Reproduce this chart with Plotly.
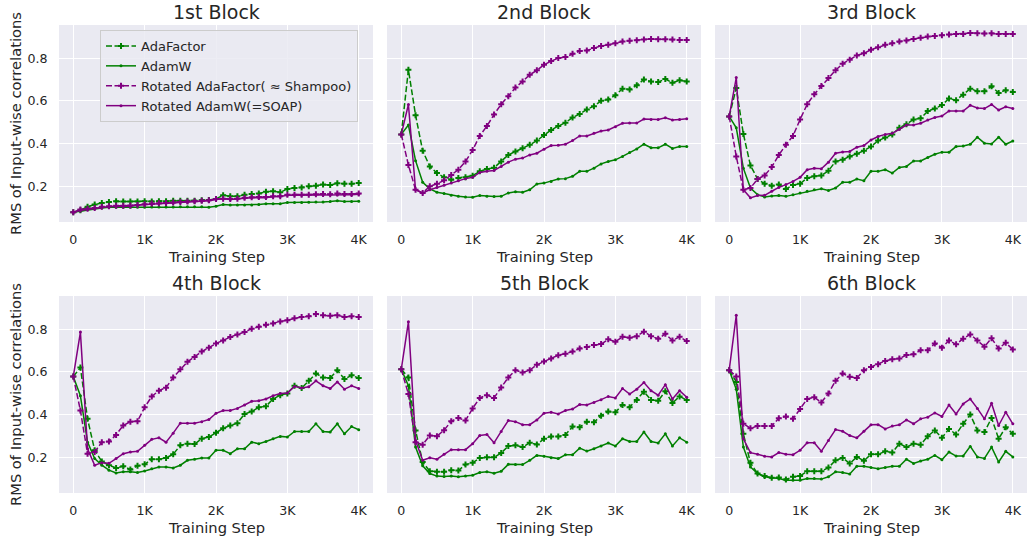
import plotly.graph_objects as go

steps = list(range(0, 4001, 100))
block_titles = ["1st Block", "2nd Block", "3rd Block", "4th Block", "5th Block", "6th Block"]
series_names = ["AdaFactor", "AdamW", "Rotated AdaFactor( ≈ Shampoo)", "Rotated AdamW(=SOAP)"]
xtick_vals = [0, 1000, 2000, 3000, 4000]
xtick_text = ["0", "1K", "2K", "3K", "4K"]
ytick_vals = [0.2, 0.4, 0.6, 0.8]
ytick_text = ["0.2", "0.4", "0.6", "0.8"]

# ---- Block 1 ----
ada_b1 = [0.079, 0.088, 0.104, 0.115, 0.122, 0.127, 0.130, 0.129, 0.129, 0.129, 0.130, 0.129, 0.130, 0.130,
          0.132, 0.132, 0.133, 0.133, 0.135, 0.136, 0.141, 0.158, 0.153, 0.153, 0.161, 0.164, 0.166, 0.174,
          0.177, 0.172, 0.188, 0.192, 0.195, 0.200, 0.203, 0.208, 0.206, 0.214, 0.212, 0.212, 0.215]
adamw_b1 = [0.079, 0.084, 0.091, 0.095, 0.099, 0.102, 0.102, 0.102, 0.102, 0.102, 0.102, 0.103, 0.103, 0.103,
            0.103, 0.104, 0.104, 0.104, 0.104, 0.102, 0.107, 0.115, 0.112, 0.112, 0.113, 0.113, 0.115, 0.118,
            0.118, 0.118, 0.124, 0.124, 0.124, 0.126, 0.127, 0.127, 0.129, 0.132, 0.129, 0.129, 0.130]
rada_b1 = [0.079, 0.091, 0.095, 0.098, 0.104, 0.107, 0.109, 0.109, 0.110, 0.113, 0.116, 0.119, 0.121, 0.122,
           0.124, 0.127, 0.129, 0.130, 0.133, 0.135, 0.141, 0.142, 0.141, 0.142, 0.146, 0.149, 0.150, 0.150,
           0.153, 0.153, 0.161, 0.161, 0.161, 0.161, 0.163, 0.164, 0.163, 0.166, 0.164, 0.164, 0.166]
radamw_b1 = [0.079, 0.088, 0.091, 0.096, 0.102, 0.105, 0.105, 0.107, 0.107, 0.113, 0.115, 0.116, 0.118, 0.121,
             0.122, 0.126, 0.127, 0.129, 0.130, 0.133, 0.138, 0.142, 0.138, 0.142, 0.144, 0.146, 0.147, 0.147,
             0.152, 0.152, 0.158, 0.158, 0.158, 0.160, 0.160, 0.161, 0.160, 0.161, 0.161, 0.161, 0.163]

# ---- Block 2 ----
ada_b2 = [0.443, 0.746, 0.533, 0.366, 0.293, 0.262, 0.242, 0.231, 0.239, 0.243, 0.250, 0.270, 0.281, 0.287,
          0.316, 0.347, 0.363, 0.378, 0.394, 0.414, 0.440, 0.464, 0.482, 0.498, 0.522, 0.538, 0.560, 0.575,
          0.600, 0.606, 0.626, 0.657, 0.653, 0.673, 0.700, 0.691, 0.688, 0.702, 0.685, 0.696, 0.691]
adamw_b2 = [0.443, 0.487, 0.320, 0.219, 0.188, 0.172, 0.166, 0.158, 0.153, 0.150, 0.149, 0.157, 0.153, 0.152,
            0.153, 0.169, 0.175, 0.172, 0.184, 0.211, 0.215, 0.223, 0.234, 0.236, 0.247, 0.270, 0.270, 0.285,
            0.305, 0.316, 0.324, 0.340, 0.358, 0.375, 0.397, 0.381, 0.380, 0.397, 0.377, 0.386, 0.386]
rada_b2 = [0.443, 0.300, 0.184, 0.169, 0.200, 0.212, 0.228, 0.253, 0.278, 0.316, 0.370, 0.436, 0.482, 0.536,
           0.584, 0.622, 0.662, 0.691, 0.722, 0.743, 0.769, 0.786, 0.800, 0.805, 0.820, 0.833, 0.836, 0.847,
           0.857, 0.862, 0.870, 0.878, 0.881, 0.884, 0.887, 0.890, 0.888, 0.888, 0.887, 0.885, 0.885]
radamw_b2 = [0.443, 0.583, 0.184, 0.169, 0.184, 0.195, 0.205, 0.215, 0.226, 0.236, 0.242, 0.265, 0.270, 0.274,
             0.293, 0.313, 0.327, 0.332, 0.347, 0.355, 0.374, 0.391, 0.392, 0.397, 0.414, 0.436, 0.436, 0.448,
             0.459, 0.464, 0.479, 0.495, 0.496, 0.496, 0.515, 0.513, 0.513, 0.521, 0.510, 0.513, 0.516]

# ---- Block 3 ----
ada_b3 = [0.527, 0.660, 0.445, 0.298, 0.234, 0.212, 0.203, 0.208, 0.188, 0.206, 0.212, 0.239, 0.247, 0.251,
          0.273, 0.316, 0.324, 0.340, 0.352, 0.367, 0.386, 0.414, 0.428, 0.443, 0.474, 0.491, 0.513, 0.518,
          0.552, 0.564, 0.580, 0.611, 0.603, 0.629, 0.657, 0.645, 0.645, 0.668, 0.637, 0.650, 0.642]
adamw_b3 = [0.527, 0.474, 0.285, 0.192, 0.161, 0.150, 0.155, 0.157, 0.153, 0.160, 0.169, 0.177, 0.184, 0.189,
            0.181, 0.192, 0.219, 0.219, 0.234, 0.226, 0.270, 0.270, 0.278, 0.262, 0.288, 0.293, 0.319, 0.319,
            0.335, 0.350, 0.360, 0.360, 0.386, 0.389, 0.397, 0.430, 0.402, 0.398, 0.430, 0.397, 0.412]
rada_b3 = [0.527, 0.340, 0.184, 0.192, 0.234, 0.251, 0.290, 0.347, 0.394, 0.436, 0.513, 0.584, 0.631, 0.670,
           0.707, 0.743, 0.774, 0.792, 0.812, 0.823, 0.839, 0.851, 0.862, 0.870, 0.878, 0.882, 0.890, 0.895,
           0.901, 0.904, 0.907, 0.910, 0.913, 0.913, 0.918, 0.916, 0.915, 0.916, 0.913, 0.913, 0.913]
radamw_b3 = [0.527, 0.709, 0.184, 0.146, 0.157, 0.158, 0.177, 0.195, 0.208, 0.223, 0.242, 0.278, 0.284, 0.282,
             0.313, 0.355, 0.361, 0.363, 0.383, 0.391, 0.417, 0.433, 0.443, 0.448, 0.467, 0.487, 0.487, 0.495,
             0.510, 0.522, 0.529, 0.553, 0.552, 0.552, 0.579, 0.567, 0.564, 0.583, 0.557, 0.572, 0.564]

# ---- Block 4 ----
ada_b4 = [0.578, 0.620, 0.380, 0.233, 0.181, 0.163, 0.150, 0.158, 0.143, 0.160, 0.167, 0.191, 0.191, 0.197,
          0.214, 0.256, 0.264, 0.262, 0.287, 0.295, 0.315, 0.336, 0.349, 0.360, 0.403, 0.414, 0.434, 0.439,
          0.473, 0.491, 0.499, 0.535, 0.524, 0.558, 0.592, 0.574, 0.571, 0.608, 0.566, 0.584, 0.571]
adamw_b4 = [0.578, 0.488, 0.271, 0.194, 0.163, 0.140, 0.127, 0.132, 0.132, 0.129, 0.136, 0.147, 0.155, 0.155,
            0.150, 0.163, 0.186, 0.191, 0.197, 0.197, 0.233, 0.233, 0.217, 0.240, 0.240, 0.271, 0.264, 0.274,
            0.287, 0.298, 0.295, 0.321, 0.321, 0.321, 0.357, 0.321, 0.318, 0.357, 0.310, 0.344, 0.329]
rada_b4 = [0.578, 0.419, 0.217, 0.225, 0.271, 0.274, 0.305, 0.349, 0.367, 0.369, 0.434, 0.485, 0.512, 0.526,
           0.574, 0.612, 0.647, 0.670, 0.695, 0.713, 0.733, 0.747, 0.763, 0.775, 0.786, 0.802, 0.811, 0.820,
           0.826, 0.836, 0.842, 0.851, 0.857, 0.860, 0.871, 0.865, 0.862, 0.865, 0.857, 0.860, 0.857]
radamw_b4 = [0.578, 0.786, 0.240, 0.163, 0.175, 0.172, 0.194, 0.217, 0.225, 0.228, 0.256, 0.284, 0.291, 0.271,
             0.313, 0.360, 0.360, 0.360, 0.367, 0.377, 0.406, 0.419, 0.419, 0.429, 0.445, 0.462, 0.465, 0.473,
             0.488, 0.499, 0.501, 0.532, 0.524, 0.530, 0.558, 0.535, 0.522, 0.553, 0.519, 0.535, 0.522]

# ---- Block 5 ----
ada_b5 = [0.612, 0.574, 0.326, 0.178, 0.135, 0.132, 0.132, 0.140, 0.138, 0.166, 0.174, 0.197, 0.200, 0.200,
          0.220, 0.253, 0.256, 0.248, 0.268, 0.260, 0.287, 0.298, 0.298, 0.305, 0.344, 0.341, 0.367, 0.364,
          0.395, 0.414, 0.411, 0.445, 0.434, 0.468, 0.507, 0.468, 0.465, 0.509, 0.454, 0.485, 0.468]
adamw_b5 = [0.612, 0.535, 0.248, 0.160, 0.124, 0.112, 0.110, 0.112, 0.109, 0.112, 0.116, 0.129, 0.132, 0.126,
            0.135, 0.167, 0.166, 0.166, 0.186, 0.209, 0.205, 0.198, 0.194, 0.212, 0.212, 0.243, 0.229, 0.240,
            0.253, 0.267, 0.253, 0.287, 0.274, 0.274, 0.318, 0.274, 0.267, 0.310, 0.253, 0.291, 0.271]
rada_b5 = [0.612, 0.496, 0.271, 0.259, 0.302, 0.299, 0.327, 0.369, 0.384, 0.372, 0.429, 0.478, 0.491, 0.478,
           0.527, 0.574, 0.608, 0.597, 0.608, 0.633, 0.648, 0.662, 0.678, 0.685, 0.695, 0.709, 0.716, 0.726,
           0.730, 0.752, 0.741, 0.764, 0.760, 0.767, 0.788, 0.767, 0.755, 0.778, 0.747, 0.764, 0.744]
radamw_b5 = [0.612, 0.834, 0.279, 0.186, 0.198, 0.191, 0.214, 0.236, 0.236, 0.236, 0.264, 0.302, 0.307, 0.268,
             0.321, 0.372, 0.367, 0.353, 0.353, 0.375, 0.406, 0.411, 0.403, 0.419, 0.426, 0.447, 0.445, 0.457,
             0.470, 0.485, 0.478, 0.522, 0.496, 0.519, 0.550, 0.512, 0.491, 0.540, 0.473, 0.512, 0.481]

# ---- Block 6 ----
ada_b6 = [0.608, 0.553, 0.310, 0.174, 0.124, 0.112, 0.104, 0.105, 0.096, 0.109, 0.113, 0.135, 0.135, 0.135,
          0.152, 0.186, 0.197, 0.171, 0.202, 0.184, 0.214, 0.214, 0.228, 0.222, 0.264, 0.248, 0.264, 0.259,
          0.299, 0.326, 0.291, 0.333, 0.307, 0.357, 0.400, 0.326, 0.318, 0.384, 0.287, 0.341, 0.310]
adamw_b6 = [0.608, 0.519, 0.248, 0.155, 0.124, 0.109, 0.104, 0.101, 0.093, 0.093, 0.093, 0.101, 0.101, 0.098,
            0.109, 0.132, 0.129, 0.122, 0.158, 0.158, 0.152, 0.147, 0.152, 0.158, 0.158, 0.191, 0.171, 0.183,
            0.191, 0.209, 0.189, 0.225, 0.206, 0.206, 0.251, 0.202, 0.195, 0.248, 0.178, 0.228, 0.202]
rada_b6 = [0.608, 0.578, 0.357, 0.336, 0.346, 0.346, 0.346, 0.383, 0.391, 0.380, 0.426, 0.473, 0.481, 0.457,
           0.499, 0.558, 0.592, 0.577, 0.571, 0.608, 0.623, 0.636, 0.651, 0.659, 0.662, 0.679, 0.682, 0.701,
           0.701, 0.733, 0.713, 0.747, 0.729, 0.755, 0.775, 0.747, 0.718, 0.757, 0.709, 0.736, 0.705]
radamw_b6 = [0.608, 0.865, 0.287, 0.222, 0.214, 0.205, 0.202, 0.222, 0.214, 0.212, 0.233, 0.268, 0.268, 0.228,
             0.279, 0.330, 0.322, 0.302, 0.291, 0.322, 0.352, 0.353, 0.333, 0.346, 0.352, 0.375, 0.357, 0.380,
             0.388, 0.408, 0.391, 0.445, 0.403, 0.450, 0.473, 0.429, 0.380, 0.453, 0.349, 0.411, 0.357]

blocks = [
    (ada_b1, adamw_b1, rada_b1, radamw_b1),
    (ada_b2, adamw_b2, rada_b2, radamw_b2),
    (ada_b3, adamw_b3, rada_b3, radamw_b3),
    (ada_b4, adamw_b4, rada_b4, radamw_b4),
    (ada_b5, adamw_b5, rada_b5, radamw_b5),
    (ada_b6, adamw_b6, rada_b6, radamw_b6),
]

W, H = 1029, 541
col_px = [(59, 373), (387, 701), (715, 1027)]
row_px = [(25, 222), (296, 493)]

GREEN = "#008000"
PURPLE = "#800080"
styles = [
    dict(color=GREEN, dash="6px,2.5px", symbol="cross", size=5),
    dict(color=GREEN, dash="solid", symbol="circle", size=3),
    dict(color=PURPLE, dash="6px,2.5px", symbol="cross", size=5),
    dict(color=PURPLE, dash="solid", symbol="circle", size=3),
]

fig = go.Figure()
annotations = []
font_family = "DejaVu Sans"
text_col = "#262626"

for k, series in enumerate(blocks):
    r, c = divmod(k, 3)
    idx = "" if k == 0 else str(k + 1)
    xa, ya = "x" + idx, "y" + idx
    for s, vals in enumerate(series):
        st = styles[s]
        fig.add_trace(go.Scatter(
            x=steps, y=vals, xaxis=xa, yaxis=ya, mode="lines+markers",
            name=series_names[s], showlegend=(k == 0), legendgroup=series_names[s],
            line=dict(color=st["color"], width=1.5, dash=st["dash"]),
            marker=dict(color=st["color"], symbol=st["symbol"], size=st["size"], line=dict(width=0)),
        ))
    x0, x1 = col_px[c]
    y0, y1 = row_px[r]
    dom_x = [x0 / W, x1 / W]
    dom_y = [1 - y1 / H, 1 - y0 / H]
    fig.layout["xaxis" + idx] = dict(
        domain=dom_x, range=[-200, 4200], anchor=ya, tickvals=xtick_vals, ticktext=xtick_text,
        showgrid=True, gridcolor="white", gridwidth=1, zeroline=False, showline=False,
        ticks="outside", ticklen=6, tickcolor="rgba(0,0,0,0)", automargin=False,
        tickfont=dict(size=12.6, color=text_col, family=font_family),
    )
    fig.layout["yaxis" + idx] = dict(
        domain=dom_y, range=[0.033, 0.955], anchor=xa, tickvals=ytick_vals,
        ticktext=ytick_text if c == 0 else [""] * 4,
        showgrid=True, gridcolor="white", gridwidth=1, zeroline=False, showline=False,
        ticks="outside", ticklen=8, tickcolor="rgba(0,0,0,0)", automargin=False,
        tickfont=dict(size=12.6, color=text_col, family=font_family),
    )
    cx = (x0 + x1) / 2 / W
    annotations.append(dict(text=block_titles[k], x=cx, y=1 - (y0 - 26) / H, xref="paper", yref="paper",
                            xanchor="center", yanchor="top", showarrow=False,
                            font=dict(size=19, color=text_col, family=font_family)))
    annotations.append(dict(text="Training Step", x=cx, y=1 - (y1 + 24) / H, xref="paper", yref="paper",
                            xanchor="center", yanchor="top", showarrow=False,
                            font=dict(size=14.7, color=text_col, family=font_family)))
    if c == 0:
        annotations.append(dict(text="RMS of Input-wise correlations", x=15.5 / W, y=1 - (y0 + y1) / 2 / H,
                                xref="paper", yref="paper", xanchor="center", yanchor="middle",
                                textangle=-90, showarrow=False,
                                font=dict(size=14.7, color=text_col, family=font_family)))

fig.update_layout(
    width=W, height=H, margin=dict(l=0, r=0, t=0, b=0, autoexpand=False),
    paper_bgcolor="white", plot_bgcolor="#EAEAF2",
    font=dict(family=font_family, color=text_col),
    annotations=annotations,
    legend=dict(x=100 / W, y=1 - 30 / H, xanchor="left", yanchor="top",
                bgcolor="rgba(234,234,242,0.85)", bordercolor="#cccccc", borderwidth=1,
                font=dict(size=13, color=text_col, family=font_family),
                tracegroupgap=0, itemwidth=30),
)

fig.write_html("out.html", config={"displayModeBar": False},
               post_script="document.body.style.margin='0px';")
